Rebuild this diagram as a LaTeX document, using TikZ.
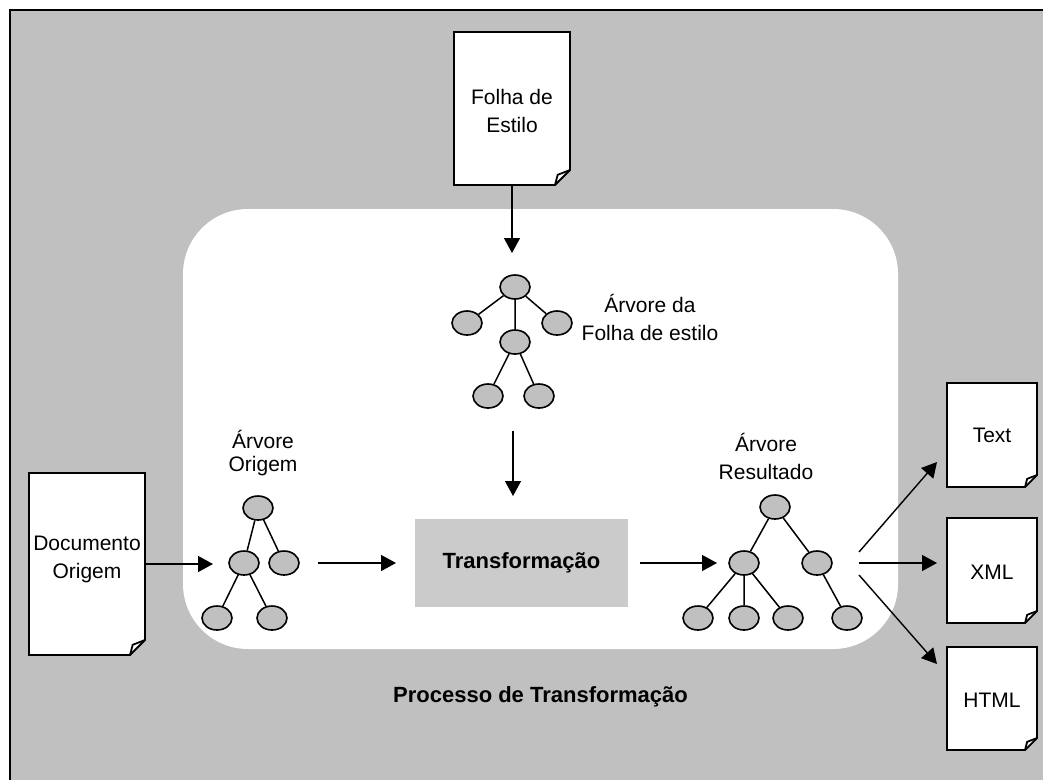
\documentclass[tikz,border=0pt]{standalone}
\usepackage{fontspec}
\setmainfont{Liberation Sans}
\usetikzlibrary{shapes.geometric,arrows.meta}
\definecolor{panelgray}{HTML}{C0C0C0}
\definecolor{boxgray}{HTML}{CBCBCB}

% page outline with a dog-eared bottom-right corner, drawn round a named node
\newcommand\foldeddoc[2]{%
  \draw[docline, fill=white] (#1.north west) -- (#1.north east)
    -- ([yshift=#2]#1.south east) -- ([xshift=-#2]#1.south east)
    -- (#1.south west) -- cycle;
  \draw[docline] ([yshift=#2]#1.south east)
    -- ([xshift=-0.82*#2, yshift=0.68*#2]#1.south east)
    -- ([xshift=-#2]#1.south east);}

\begin{document}
\begin{tikzpicture}[x=1pt,y=-1pt,
  tn/.style={ellipse, draw, fill=panelgray, line width=1.6pt,
    minimum width=30pt, minimum height=24pt, inner sep=0pt},
  treeedge/.style={line width=1.5pt},
  arr/.style={line width=1.4pt, -{Triangle[length=15pt,width=16pt]}},
  docline/.style={line width=1.8pt, line join=miter},
  docnode/.style={inner sep=0pt, outer sep=0pt},
  lbl/.style={align=center, font=\fontsize{21}{28}\selectfont, inner sep=0pt},
  boldlbl/.style={font=\bfseries\fontsize{22}{26}\selectfont, inner sep=0pt}
]
\useasboundingbox (0,0) rectangle (1043,780);

% grey canvas with its top and left rule
\fill[panelgray] (10,10) rectangle (1043,780);
\draw[line width=2pt] (10,780) -- (10,10) -- (1043,10);

% white rounded panel of the transformation process
\fill[white, rounded corners=65pt] (183,209) rectangle (898,649);

% documents
\node[docnode, minimum width=116pt, minimum height=153pt] (folha) at (512,108.5) {};
\node[docnode, minimum width=116pt, minimum height=182pt] (docorig) at (87,564) {};
\node[docnode, minimum width=90pt, minimum height=104pt] (txt) at (992,435) {};
\node[docnode, minimum width=90pt, minimum height=105pt] (xml) at (992,570.5) {};
\node[docnode, minimum width=90pt, minimum height=103pt] (html) at (992,698.5) {};
\foldeddoc{folha}{15pt}
\foldeddoc{docorig}{15pt}
\foldeddoc{txt}{12pt}
\foldeddoc{xml}{12pt}
\foldeddoc{html}{12pt}

\node[lbl] (folhatxt) at (512,110.5) {Folha de\\Estilo};
\node[lbl] (docorigtxt) at (87,559) {Documento\\Origem};
\node[lbl] (txttxt) at (992,435) {Text};
\node[lbl] (xmltxt) at (992,572) {XML};
\node[lbl] (htmltxt) at (992,700) {HTML};

% stylesheet tree
\node[tn] (s0) at (515,287) {};
\node[tn] (s1) at (467,323) {};
\node[tn] (s2) at (557,323) {};
\node[tn] (s3) at (515,342) {};
\node[tn] (s4) at (488,396) {};
\node[tn] (s5) at (539,396) {};
\draw[treeedge] (s0) -- (s1) (s0) -- (s2) (s0) -- (s3) (s3) -- (s4) (s3) -- (s5);
\node[lbl] (stree) at (650,317.5) {Árvore da\\Folha de estilo};

% source tree
\node[tn] (o0) at (258,508) {};
\node[tn] (o1) at (244,563) {};
\node[tn] (o2) at (284,563) {};
\node[tn] (o3) at (217,618) {};
\node[tn] (o4) at (272,618) {};
\draw[treeedge] (o0) -- (o1) (o0) -- (o2) (o1) -- (o3) (o1) -- (o4);
\node[lbl] (otree) at (263,453) {Árvore\\[-5pt]Origem};

% result tree
\node[tn] (r0) at (775,507) {};
\node[tn] (r1) at (744,563) {};
\node[tn] (r2) at (817,563) {};
\node[tn] (r3) at (698,618) {};
\node[tn] (r4) at (744,618) {};
\node[tn] (r5) at (788,618) {};
\node[tn] (r6) at (847,618) {};
\draw[treeedge] (r0) -- (r1) (r0) -- (r2) (r1) -- (r3) (r1) -- (r4) (r1) -- (r5) (r2) -- (r6);
\node[lbl] (rtree) at (766,456) {Árvore\\Resultado};

% transformation step
\node[rectangle, fill=boxgray, minimum width=213pt, minimum height=88pt, boldlbl] (trans) at (521.5,563) {Transformação};
\node[boldlbl] (proc) at (540.5,697) {Processo de Transformação};

% connector ends
\coordinate (fa) at (512,253);
\coordinate (sa) at (513,431);
\coordinate (sb) at (513,496);
\coordinate (da) at (213,564);
\coordinate (oa) at (318,563);
\coordinate (ob) at (396,563);
\coordinate (ta) at (640,563);
\coordinate (tb) at (717,563);
\coordinate (q1) at (859,552);
\coordinate (q2) at (859,563);
\coordinate (q3) at (859,575);
\coordinate (e1) at (937,462);
\coordinate (e2) at (937,563);
\coordinate (e3) at (937,664);

\draw[arr] (folha.south) -- (fa);
\draw[arr] (sa) -- (sb);
\draw[arr] (docorig.east |- da) -- (da);
\draw[arr] (oa) -- (ob);
\draw[arr] (ta) -- (tb);
\draw[arr] (q1) -- (e1);
\draw[arr] (q2) -- (e2);
\draw[arr] (q3) -- (e3);
\end{tikzpicture}
\end{document}
